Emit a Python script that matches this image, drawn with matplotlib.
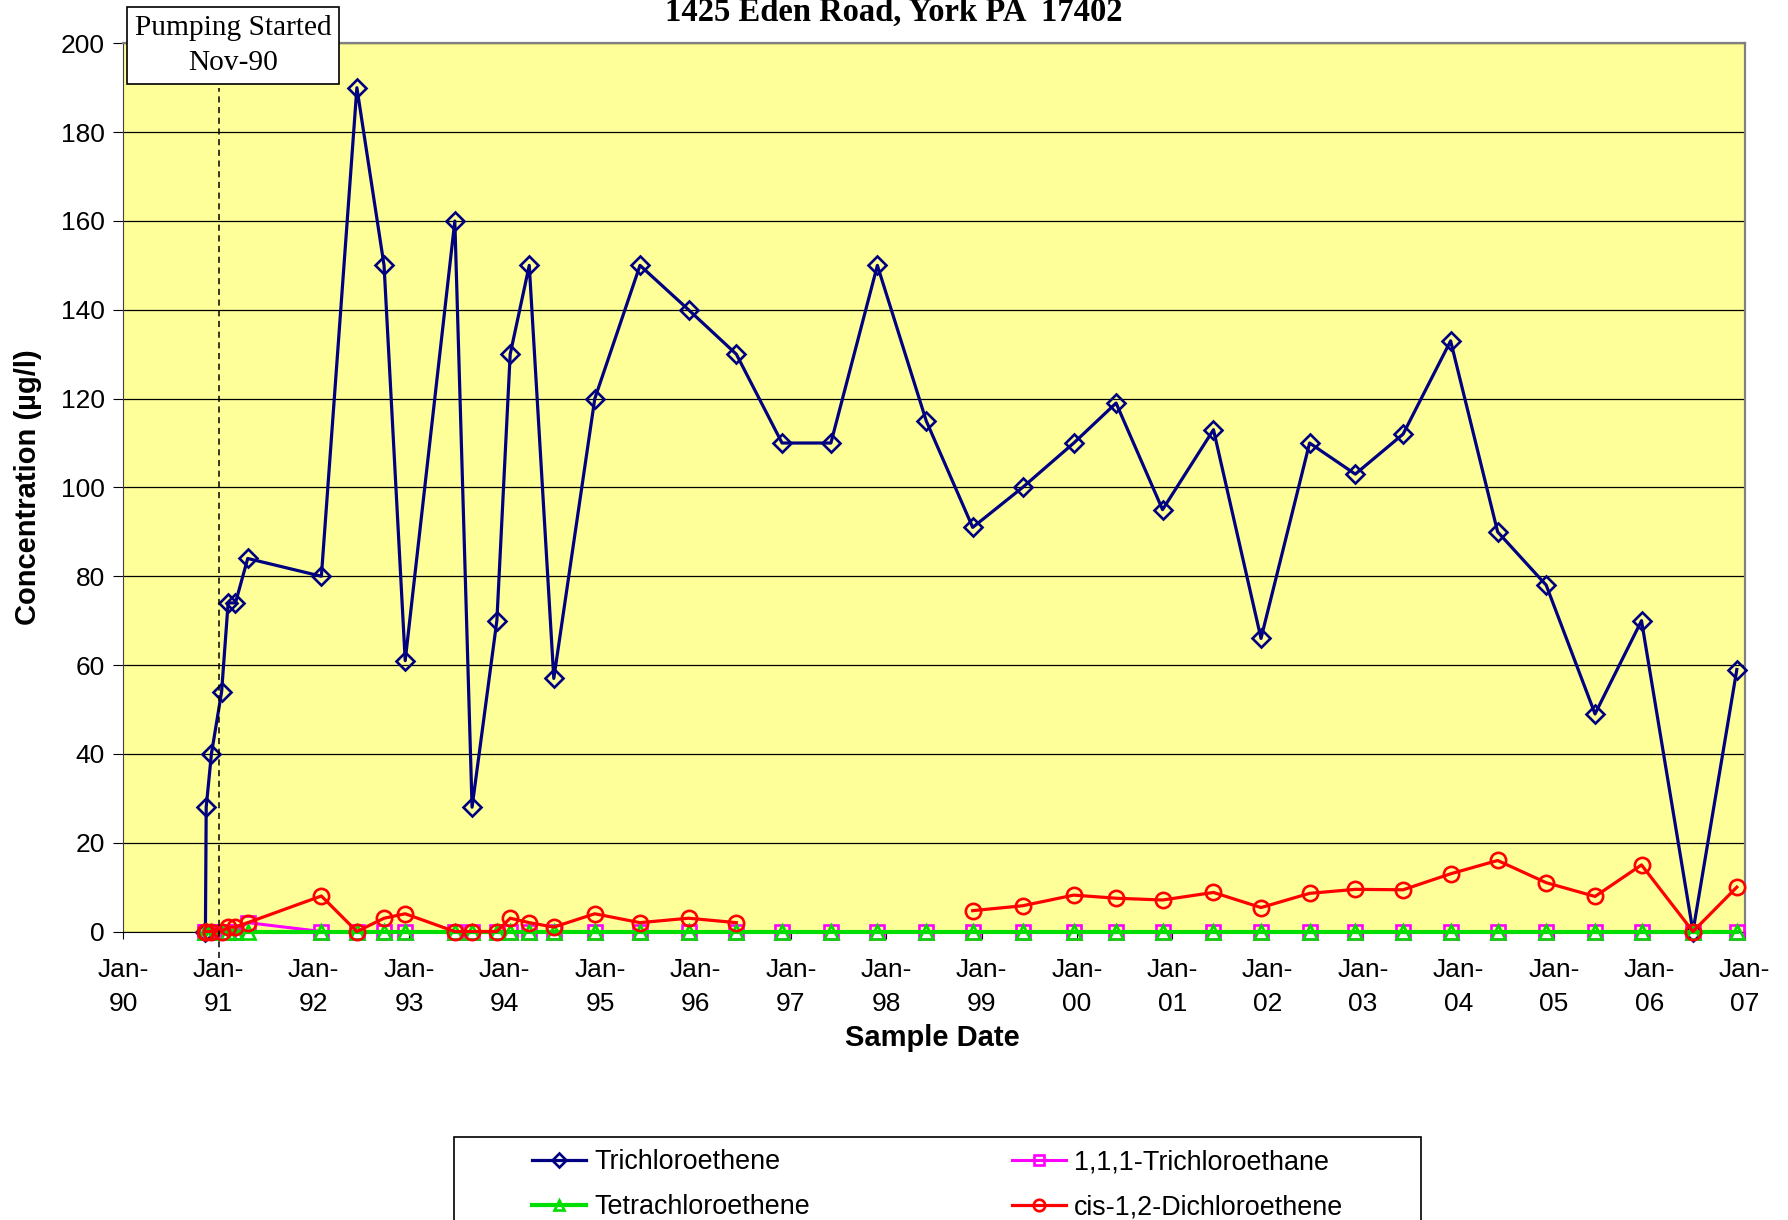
import matplotlib.pyplot as plt
import matplotlib.dates as mdates
import matplotlib.patches as patches
import numpy as np
import pandas as pd

# Sample dates and concentrations (ug/l)
sample_dates = ['1990-11-12', '1990-11-15', '1990-12-05', '1991-01-13', '1991-02-07',
                '1991-03-07', '1991-04-23', '1992-01-30', '1992-06-14', '1992-09-26',
                '1992-12-16', '1993-06-24', '1993-08-29', '1993-12-02', '1994-01-22',
                '1994-04-05', '1994-07-08', '1994-12-12', '1995-06-03', '1995-12-06',
                '1996-06-06', '1996-11-28', '1997-06-03', '1997-11-28', '1998-06-03',
                '1998-11-28', '1999-06-07', '1999-12-20', '2000-05-30', '2000-11-24',
                '2001-06-07', '2001-12-06', '2002-06-10', '2002-12-02', '2003-06-03',
                '2003-12-02', '2004-05-30', '2004-12-02', '2005-06-07', '2005-12-02',
                '2006-06-17', '2006-12-02']

tce = [0, 28, 40, 54, 74, 74, 84, 80, 190, 150,
       61, 160, 28, 70, 130, 150, 57, 120, 150, 140,
       130, 110, 110, 150, 115, 91, 100, 110, 119, 95,
       113, 66, 110, 103, 112, 133, 90, 78, 49, 70,
       0, 59]

tca = [0, 0, 0, 0, 0, 0, 2, 0, 0, 0,
       0, 0, 0, 0, 0, 0, 0, 0, 0, 0,
       0, 0, 0, 0, 0, 0, 0, 0, 0, 0,
       0, 0, 0, 0, 0, 0, 0, 0, 0, 0,
       0, 0]

pce = [0] * len(sample_dates)

dce = [0, 0, 0, 0, 1, 1, 2, 8, 0, 3,
       4, 0, 0, 0, 3, 2, 1, 4, 2, 3,
       2, np.nan, np.nan, np.nan, np.nan, 4.7, 5.8, 8.2, 7.5, 7.1,
       8.8, 5.4, 8.6, 9.5, 9.4, 13, 16, 11, 7.9, 15,
       0, 10]

pump_date = '1991-01-03'
x_start, x_end = '1990-01-01', '2007-01-01'
y_ticks = list(range(0, 201, 20))

dates = pd.to_datetime(sample_dates)

sans = ['Liberation Sans', 'DejaVu Sans']
serif = ['Liberation Serif', 'DejaVu Serif']
plt.rcParams['font.family'] = sans

fig = plt.figure(figsize=(17.88, 12.20), dpi=100)
ax = fig.add_axes([108 / 1568, 1 - 817 / 1070, (1530 - 108) / 1568, (817 - 38) / 1070])
ax.set_facecolor('#FFFF99')

ax.plot(dates, tce, '-D', color='#000080', lw=2.3, ms=9.5, mfc='none', mew=1.9,
        label='Trichloroethene', zorder=3, clip_on=False)
ax.plot(dates, tca, '-s', color='#FF00FF', lw=2.2, ms=10, mfc='none', mew=1.9,
        label='1,1,1-Trichloroethane', zorder=4, clip_on=False)
ax.plot(dates, pce, '-^', color='#00DD00', lw=3.0, ms=9.5, mfc='none', mew=1.9,
        label='Tetrachloroethene', zorder=5, clip_on=False)
ax.plot(dates, dce, '-o', color='#FF0000', lw=2.3, ms=11, mfc='none', mew=1.9,
        label='cis-1,2-Dichloroethene', zorder=6, clip_on=False)

# pumping start marker
pd_x = pd.to_datetime(pump_date)
ax.plot([pd_x, pd_x], [-6, 190], color='black', lw=1.1, ls=(0, (4, 3)),
        clip_on=False, zorder=7)
fig.text(0.1304, 0.9626, 'Pumping Started\nNov-90', family=serif, fontsize=21.2,
         ha='center', va='center', linespacing=1.45,
         bbox=dict(boxstyle='square,pad=0.26', fc='white', ec='black', lw=1.2))

ax.set_xlim(pd.to_datetime(x_start), pd.to_datetime(x_end))
ax.set_ylim(0, 200)
ax.set_yticks(y_ticks)
ax.xaxis.set_major_locator(mdates.YearLocator())
ax.xaxis.set_major_formatter(mdates.DateFormatter('%b-\n%y'))
ax.tick_params(axis='x', labelsize=19, length=5, direction='out', pad=14)
ax.tick_params(axis='y', labelsize=19, length=7, direction='out', pad=6)
for lab in ax.get_xticklabels():
    lab.set_linespacing(1.55)

ax.grid(axis='y', color='black', lw=0.9)
ax.set_axisbelow(True)
for side in ['top', 'right']:
    ax.spines[side].set_color('#808080')
    ax.spines[side].set_linewidth(1.6)
ax.spines['left'].set_color('#404040')
ax.spines['bottom'].set_color('black')

ax.set_xlabel('Sample Date', fontsize=21, fontweight='bold')
ax.set_ylabel('Concentration (µg/l)', fontsize=21, fontweight='bold')
ax.xaxis.set_label_coords(0.4993, -0.1045)
ax.yaxis.set_label_coords(-0.050, 0.5)

fig.text(0.5, 1 - 18 / 1070, '1425 Eden Road, York PA  17402', family=serif,
         fontsize=23.5, fontweight='bold', ha='center', va='baseline')

# legend with a plain box running off the bottom edge
h, l = ax.get_legend_handles_labels()
order = [0, 2, 1, 3]
fig.legend([h[i] for i in order], [l[i] for i in order], ncol=2, loc='upper center',
           bbox_to_anchor=(0.5245, 1 - 1133 / 1220), frameon=False, fontsize=19.4,
           handlelength=2.0, handletextpad=0.3, columnspacing=7.5,
           labelspacing=0.7, borderpad=0.1, markerscale=0.75)
fig.add_artist(patches.Rectangle((454 / 1788, -0.05), (1421 - 454) / 1788,
                                 0.05 + 1 - 1137 / 1220, transform=fig.transFigure,
                                 fill=False, ec='black', lw=1.2))

plt.savefig('out.png', dpi=100)
plt.close()
